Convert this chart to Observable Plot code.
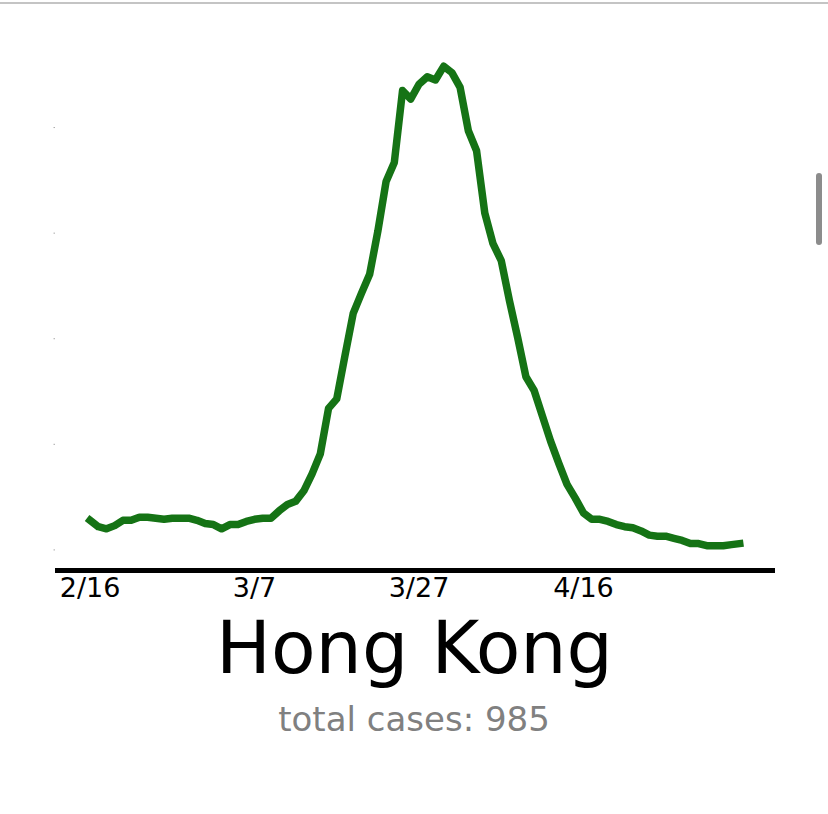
<!DOCTYPE html>
<html>
<head>
<meta charset="utf-8">
<script src="https://cdn.jsdelivr.net/npm/d3@7"></script>
<script src="https://cdn.jsdelivr.net/npm/@observablehq/plot@0.6"></script>
<style>
  html, body { margin: 0; padding: 0; background: #fff; overflow: hidden; width: 828px; height: 814px; }
  #wrap { position: relative; width: 828px; height: 814px; font-family: "DejaVu Sans", sans-serif; }
  #topline { position: absolute; left: 0; top: 2px; width: 828px; height: 2px; background: #c4c4c4; }
  #scroll { position: absolute; left: 816px; top: 173px; width: 6px; height: 72px; background: #8c8c8c; border-radius: 3px; }
  #title { margin-top: 1px; font-size: 73px; line-height: 73px; text-align: center; color: #000; padding-left: 1px; }
  #subtitle { margin-top: 18px; font-size: 34px; line-height: 34px; text-align: center; color: #808080; }
  svg { display: block; }
</style>
</head>
<body>
<div id="wrap">
  <div id="chart"></div>
  <div id="title">Hong Kong</div>
  <div id="subtitle">total cases: 985</div>
  <div id="topline"></div>
  <div id="scroll"></div>
</div>
<script>
// ---- data ----
const startDate = "2020-02-16";
// daily new cases (smoothed)
const values = [
  2.8, 2.2, 2.0, 2.3, 2.8, 2.8, 3.1, 3.1, 3.0, 2.9,
  3.0, 3.0, 3.0, 2.8, 2.5, 2.4, 2.0, 2.4, 2.4, 2.7,
  2.9, 3.0, 3.0, 3.7, 4.3, 4.6, 5.6, 7.2, 9.1, 13.4,
  14.3, 18.4, 22.4, 24.3, 26.1, 30.2, 34.9, 36.7, 43.5, 42.7,
  44.1, 44.8, 44.5, 45.8, 45.2, 43.8, 39.7, 37.8, 31.9, 29.0,
  27.4, 23.6, 20.1, 16.4, 15.1, 12.7, 10.3, 8.2, 6.2, 4.9,
  3.5, 2.9, 2.9, 2.7, 2.4, 2.2, 2.1, 1.8, 1.4, 1.3,
  1.3, 1.1, 0.9, 0.6, 0.6, 0.4, 0.4, 0.4, 0.5, 0.6
];
const xTickLabels = ["2/16", "3/7", "3/27", "4/16"];
const yTicks = [0, 10, 20, 30, 40];
const totalCases = 985;

// ---- build table ----
const DAY = 864e5;
const t0 = new Date(startDate + "T00:00:00Z");
const parseTick = s => { const [m, d] = s.split("/").map(Number); return new Date(Date.UTC(2020, m - 1, d)); };
const data = values.map((v, i) => ({ date: new Date(+t0 + i * DAY), value: v }));
const xTicks = xTickLabels.map(parseTick);

const first = data[0].date, last = data[data.length - 1].date;
const xDomain = [new Date(+first - 4.2 * DAY), new Date(+last + 4.35 * DAY)];
const yMin = -1.95, yMax = 48.15;

document.getElementById("subtitle").textContent = "total cases: " + totalCases;

const chart = Plot.plot({
  width: 828,
  height: 610,
  marginTop: 41,
  marginBottom: 40,
  marginLeft: 55,
  marginRight: 53,
  style: { fontFamily: "DejaVu Sans, sans-serif", background: "white", color: "black" },
  x: { type: "utc", domain: xDomain },
  y: { domain: [yMin, yMax] },
  marks: [
    Plot.axisY({ ticks: yTicks, tickSize: 1.5, tickFormat: () => "", stroke: "#aaa", label: null }),
    Plot.axisX({ ticks: xTicks, tickSize: 0, tickPadding: 7, tickFormat: d3.utcFormat("%-m/%-d"), fontSize: 27, label: null, fill: "black" }),
    Plot.ruleY([yMin], { stroke: "black", strokeWidth: 5 }),
    Plot.line(data, { x: "date", y: "value", stroke: "#157315", strokeWidth: 7.5, strokeLinejoin: "round", strokeLinecap: "square" })
  ]
});
document.getElementById("chart").appendChild(chart);
</script>
</body>
</html>
